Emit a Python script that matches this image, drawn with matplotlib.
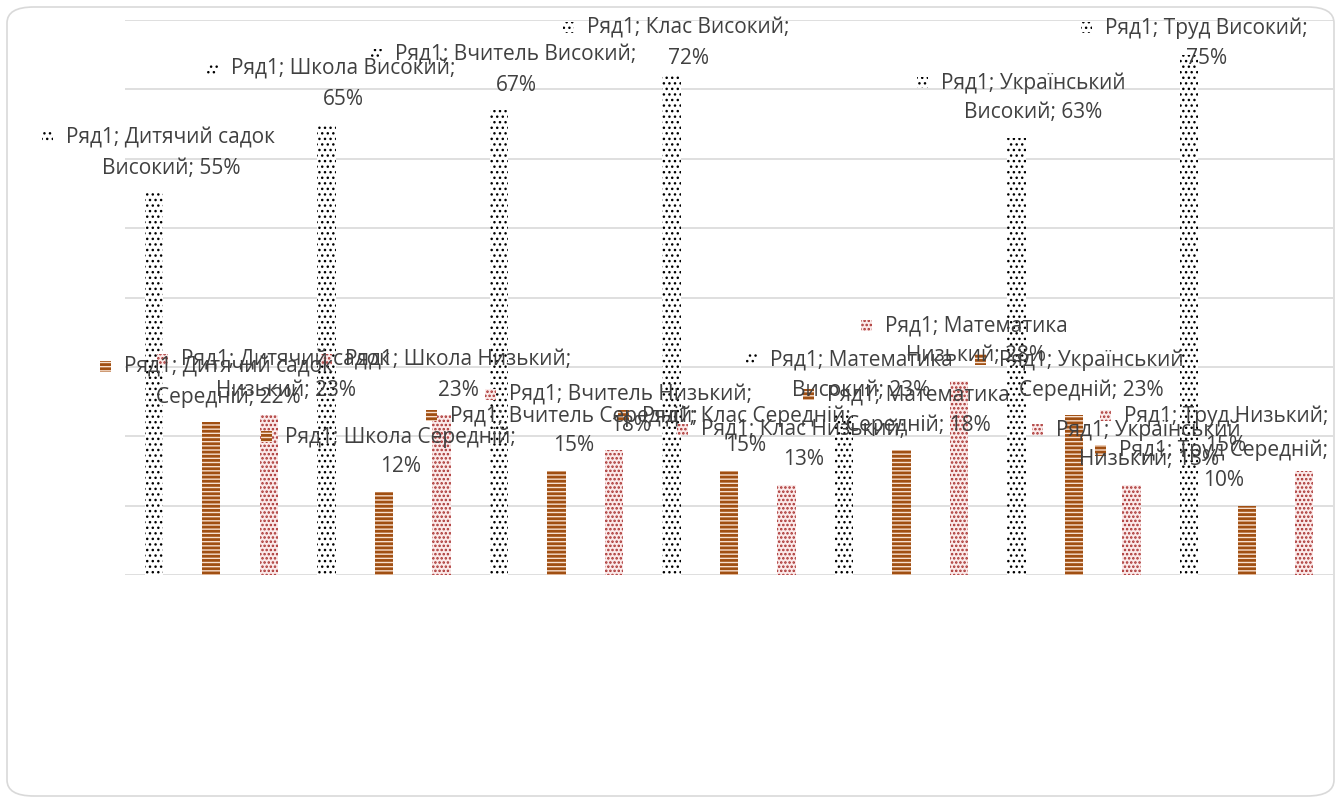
import textwrap
import matplotlib.pyplot as plt
from matplotlib.patches import Rectangle, FancyBboxPatch

# data (single series "Ряд1")
series = 'Ряд1'
groups = ['Дитячий садок', 'Школа', 'Вчитель', 'Клас', 'Математика', 'Український', 'Труд']
levels = ['Високий', 'Середній', 'Низький']
high = [55, 65, 67, 72, 23, 63, 75]
medium = [22, 12, 15, 15, 18, 23, 10]
low = [23, 23, 18, 13, 28, 13, 15]
y_ticks = [0, 10, 20, 30, 40, 50, 60, 70, 80]

categories = [f'{g} {lv}' for g in groups for lv in levels]
values = [v for trio in zip(high, medium, low) for v in trio]
level_of = [lv for g in groups for lv in levels]

# fill pattern per level: (face, hatch, hatch colour, hatch width)
patterns = {
    'Високий': ('white', '...', 'black', 1.0),
    'Середній': ('#F8E0CF', '----', '#A04F12', 2.0),
    'Низький': ('#FBEAEA', '....', '#A8302E', 1.2),
}

plt.rcParams['font.family'] = ['Open Sans', 'DejaVu Sans']
plt.rcParams['hatch.linewidth'] = 1.2


def style_patch(p, lv):
    face, hatch, col, hw = patterns[lv]
    p.set_facecolor(face)
    p.set_edgecolor(col)
    p.set_hatch(hatch)
    p.set_linewidth(0)
    if hasattr(p, 'set_hatch_linewidth'):
        p.set_hatch_linewidth(hw)


W, H = 1341, 800
fig = plt.figure(figsize=(W / 100, H / 100), dpi=100)
ax = fig.add_axes([125 / W, 1 - 575 / H, 1208 / W, 555 / H])

x = list(range(len(values)))
bars = ax.bar(x, values, width=0.32, zorder=2)
for bar, lv in zip(bars, level_of):
    style_patch(bar, lv)

ax.set_xlim(-0.5, len(values) - 0.5)
ax.set_ylim(y_ticks[0], y_ticks[-1])
ax.set_yticks(y_ticks)
ax.yaxis.grid(True, color='#D9D9D9', lw=1.2, zorder=0)
ax.tick_params(left=False, bottom=False, labelleft=False, labelbottom=False)
for s in ax.spines.values():
    s.set_visible(False)

# rounded chart border
fig.patches.append(FancyBboxPatch((7 / W, 4 / H), 1327 / W, 789 / H,
                                  boxstyle='round,pad=0,rounding_size=0.02',
                                  transform=fig.transFigure, fc='none',
                                  ec='#D9D9D9', lw=1.2))

# data labels: "Ряд1; category; value%" with legend key, above each bar
fig.canvas.draw()
renderer = fig.canvas.get_renderer()
fs = 15
gap = 30  # pixel distance between the two lines
for i, (cat, v, lv) in enumerate(zip(categories, values, level_of)):
    lines = textwrap.wrap(f'{series}; {cat};', 23)
    if len(lines) == 1:
        lines.append(f'{v}%')
    else:
        lines[-1] += f' {v}%'
    bx, by = ax.transData.transform((i, v))
    cx, cy = bx + 17, by + 40
    widths = []
    tmp = [fig.text(0, 0, ln, fontsize=fs) for ln in lines]
    for t in tmp:
        widths.append(t.get_window_extent(renderer).width)
        t.remove()
    cx = min(cx, W - 13 - max(widths) / 2)
    cy = min(cy, H - 28 - gap / 2)
    y1 = cy + gap / 2
    y2 = cy - gap / 2
    fig.text(cx / W, y1 / H, lines[0], fontsize=fs, color='#404040',
             ha='center', va='center', zorder=5)
    fig.text(cx / W, y2 / H, lines[1], fontsize=fs, color='#404040',
             ha='center', va='center', zorder=5)
    kx = cx - widths[0] / 2 - 24
    key = Rectangle((kx / W, (y1 - 5) / H), 11 / W, 11 / H,
                    transform=fig.transFigure, zorder=5)
    style_patch(key, lv)
    fig.patches.append(key)

fig.savefig('out.png', dpi=100)
